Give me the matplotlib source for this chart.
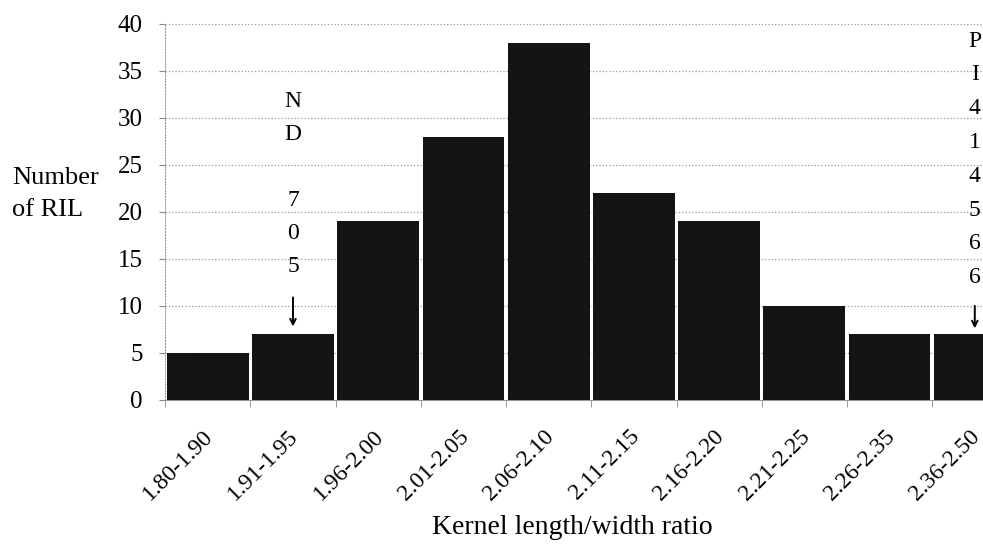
import numpy as np
import matplotlib.pyplot as plt
import matplotlib.transforms as mtransforms

plt.rcParams['font.family'] = ['Liberation Serif', 'DejaVu Serif']

# data
categories = ['1.80-1.90', '1.91-1.95', '1.96-2.00', '2.01-2.05', '2.06-2.10',
              '2.11-2.15', '2.16-2.20', '2.21-2.25', '2.26-2.35', '2.36-2.50']
counts = [5, 7, 19, 28, 38, 22, 19, 10, 7, 7]
y_ticks = [0, 5, 10, 15, 20, 25, 30, 35, 40]

fig = plt.figure(figsize=(9.83, 5.44), dpi=100)
ax = fig.add_axes([0.168, 0.265, 0.867, 0.691])

x = np.arange(len(categories))
ax.bar(x, counts, width=0.96, color='#141414', zorder=3)

ax.set_xlim(-0.5, len(categories) - 0.5)
ax.set_ylim(0, 40)
ax.set_yticks(y_ticks)
ax.set_yticklabels([str(v) for v in y_ticks], fontsize=18)

# 类别标签在中间, 刻度在边界
ax.set_xticks(x)
ax.set_xticklabels(categories, rotation=45, ha='right', va='center',
                   rotation_mode='anchor', fontsize=17)
ax.tick_params(axis='x', which='major', length=0, pad=24)
ax.set_xticks(np.arange(len(categories)) - 0.5, minor=True)
ax.tick_params(axis='x', which='minor', length=5, color='#888888', direction='out')
ax.tick_params(axis='y', length=4, color='#888888', pad=12)

shift = mtransforms.ScaledTranslation(2 / 100, 0, fig.dpi_scale_trans)
for lab in ax.get_xticklabels():
    lab.set_transform(lab.get_transform() + shift)

ax.grid(axis='y', linestyle=':', color='#999999', linewidth=0.9, zorder=0)

for s in ['top', 'right']:
    ax.spines[s].set_visible(False)
ax.spines['left'].set_color('#999999')
ax.spines['left'].set_linestyle(':')
ax.spines['bottom'].set_color('#999999')

fig.text(0.012, 0.644, 'Number\nof RIL', fontsize=19, va='center', ha='left',
         linespacing=1.6)
fig.text(0.582, 0.031, 'Kernel length/width ratio', fontsize=20, ha='center', va='center')

# parent line annotations (ND705, PI414566)
ax.text(1, 32.9, 'N\nD\n\n7\n0\n5', fontsize=17, ha='center', va='top',
        linespacing=1.76)
ax.annotate('', xy=(1, counts[1] + 0.8), xytext=(1, counts[1] + 3.9),
            arrowprops=dict(arrowstyle='->', lw=1.4, color='black',
                            shrinkA=0, shrinkB=0))
ax.text(9, 39.3, 'P\nI\n4\n1\n4\n5\n6\n6', fontsize=17, ha='center', va='top',
        linespacing=1.8)
ax.annotate('', xy=(9, counts[9] + 0.6), xytext=(9, counts[9] + 3.0),
            arrowprops=dict(arrowstyle='->', lw=1.4, color='black',
                            shrinkA=0, shrinkB=0))

fig.savefig('out.png', dpi=100)
